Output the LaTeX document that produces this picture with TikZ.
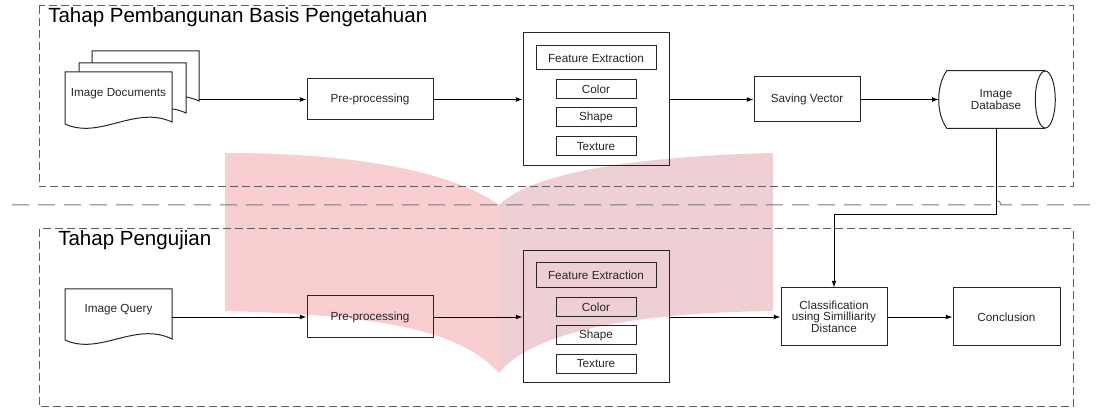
\documentclass[tikz,border=0pt]{standalone}
\usepackage{fontspec}
\setmainfont{Liberation Sans}
\usetikzlibrary{positioning, arrows.meta}

\definecolor{framegray}{RGB}{95,95,95}
\definecolor{pageleft}{RGB}{248,206,209}
\definecolor{pageright}{RGB}{238,208,212}

\tikzset{
  box/.style={draw=black!85, line width=0.75pt, inner sep=1pt, align=center, text=black!85, font=\fontsize{8.8}{7.6}\selectfont},
  featbox/.style={box, minimum width=60pt, minimum height=14.25pt},
  flow/.style={-{Latex[length=5pt,width=3.6pt]}, line width=0.7pt},
  stageframe/.style={draw=framegray, line width=0.75pt, dash pattern=on 6pt off 3pt},
  sepline/.style={draw=framegray!85, line width=0.75pt, dash pattern=on 12.75pt off 6.75pt},
  stagetitle/.style={anchor=west, inner sep=0pt, font=\fontsize{15.4}{18}\selectfont},
  doctext/.style={inner sep=0pt, minimum width=80.25pt, text=black!85, font=\fontsize{8.8}{10}\selectfont},
  docsheet/.style={draw=black!85, line width=0.75pt, fill=white},
}

\begin{document}
\begin{tikzpicture}[x=0.75pt,y=0.75pt,yscale=-1,xscale=1]
    \useasboundingbox (0,0) rectangle (1096,409);
    % watermark (open book)
    \fill[pageleft] (225,153) .. controls (350,153) and (450,170) .. (499,205) -- (499,373) .. controls (460,330) and (380,315) .. (225,311) -- cycle;
    \fill[pageright] (499,205) .. controls (530,175) and (620,157) .. (773,153) -- (773,311) .. controls (620,313) and (530,335) .. (499,373) -- cycle;
    % stage frames
    \draw[stageframe] (39,6) rectangle (1073,187);
    \draw[stageframe] (39,229) rectangle (1073,407);
    \draw[sepline] (12,205) -- (992,205) .. controls (992,199) and (1001,199) .. (1001,205) -- (1096,205);
    \node[stagetitle] (titlebuild) at (48,17) {Tahap Pembangunan Basis Pengetahuan};
    \node[stagetitle] (titletest) at (58,240) {Tahap Pengujian};

    % stage 1
    \foreach \dx/\dy in {27/-21, 14/-9, 0/0}
        \draw[docsheet] ({65+\dx},{72+\dy}) -- ({65+\dx},{124+\dy}) .. controls ({100+\dx},{140+\dy}) and ({135+\dx},{105+\dy}) .. ({172+\dx},{122+\dy}) -- ({172+\dx},{72+\dy}) -- cycle;
    \node[doctext] (imgdoc) at (118.5,94) {Image Documents};
    \coordinate (docout) at (199,99.5);
    \node[box, minimum width=94.5pt, minimum height=30.75pt] (pre1) at (370,99.5) {Pre-processing};
    \node[box, minimum width=109.5pt, minimum height=99.75pt] (feat1) at (596,99.5) {};
    \node[box, minimum width=90pt, minimum height=18pt] (fe1) at (596,58) {Feature Extraction};
    \node[featbox] (col1) at (596,89.5) {Color};
    \node[featbox] (shp1) at (596,117.5) {Shape};
    \node[featbox] (tex1) at (596,146.5) {Texture};
    \node[box, minimum width=79.5pt, minimum height=33.75pt] (save) at (807,99.5) {Saving Vector};
    \node[inner sep=0pt, minimum width=73.5pt, minimum height=42.75pt, align=center, text=black!85, font=\fontsize{8.8}{7.6}\selectfont] (db) at (996,99.5) {Image\\Database};
    \draw[draw=black!85, line width=0.75pt] (db.north east) -- (db.north west) .. controls +(-10.7,15) and +(-10.7,-15) .. (db.south west) -- (db.south east);
    \draw[draw=black!85, line width=0.75pt] (db.east) ellipse [x radius=7.5pt, y radius=21.375pt];

    % stage 2
    \draw[docsheet] (65,289) -- (65,340) .. controls (100,356) and (135,321) .. (172,339) -- (172,289) -- cycle;
    \node[doctext] (query) at (118.5,310) {Image Query};
    \node[box, minimum width=94.5pt, minimum height=31.5pt] (pre2) at (370,317) {Pre-processing};
    \node[box, minimum width=109.5pt, minimum height=99pt] (feat2) at (596,317) {};
    \node[box, minimum width=90pt, minimum height=18.75pt] (fe2) at (596,275.5) {Feature Extraction};
    \node[featbox] (col2) at (596,307) {Color};
    \node[featbox] (shp2) at (596,335.5) {Shape};
    \node[featbox] (tex2) at (596,364) {Texture};
    \node[box, minimum width=79.5pt, minimum height=43.5pt] (cls) at (834,317) {Classification\\using Similliarity\\Distance};
    \node[box, minimum width=80.25pt, minimum height=43.5pt] (concl) at (1006.5,317) {Conclusion};

    % connectors
    \draw[flow] (docout) -- (pre1);
    \draw[flow] (pre1) -- (feat1);
    \draw[flow] (feat1) -- (save);
    \draw[flow] (save) -- ([xshift=-6pt]db.west);
    \draw[flow] (db.south) -- ++(0,86) -| (cls.north);
    \draw[flow] (query.east |- pre2.west) -- (pre2);
    \draw[flow] (pre2) -- (feat2);
    \draw[flow] (feat2) -- (cls);
    \draw[flow] (cls) -- (concl);
\end{tikzpicture}
\end{document}
